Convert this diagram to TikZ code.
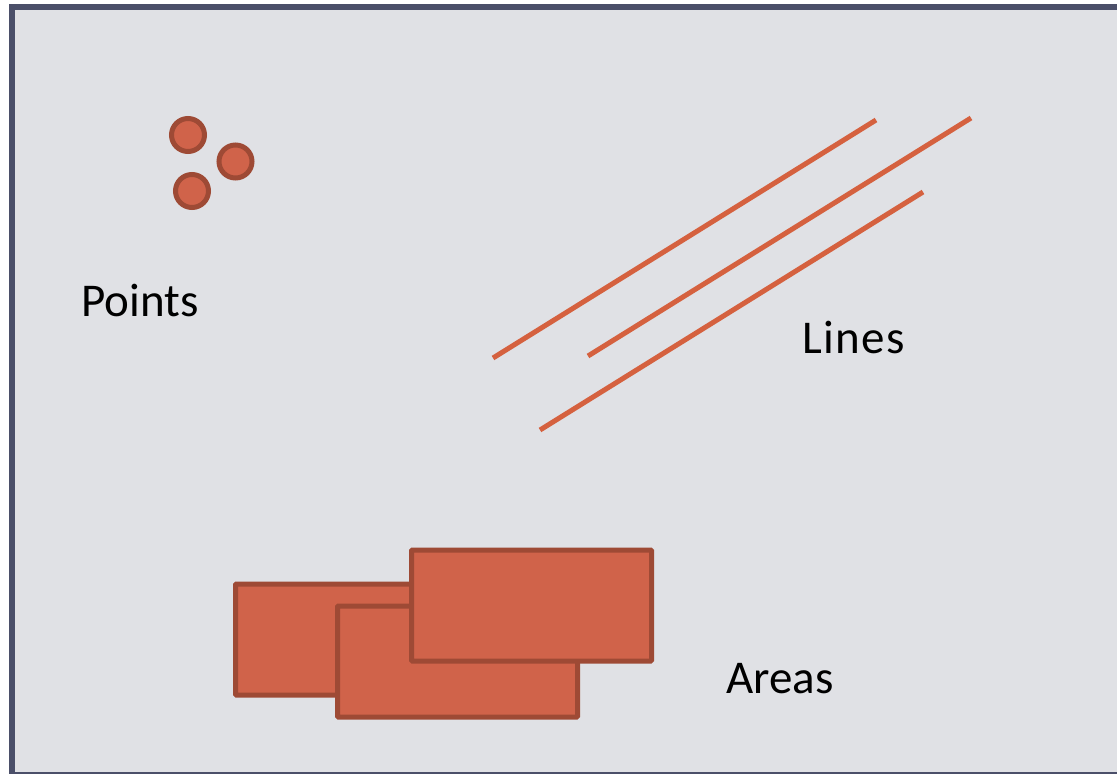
\documentclass[tikz,border=0pt]{standalone}
\usepackage{fontspec}
\setmainfont{Carlito}
\definecolor{framec}{HTML}{4B4F69}
\definecolor{bgc}{HTML}{E0E1E5}
\definecolor{fillc}{HTML}{D0634A}
\definecolor{edgec}{HTML}{9E4A35}
\definecolor{linec}{HTML}{D5613F}
\tikzset{
  dot/.style={circle, draw=edgec, fill=fillc, line width=5pt, minimum size=33pt, inner sep=0pt},
  area/.style={rectangle, draw=edgec, fill=fillc, line width=5pt, minimum width=240pt, minimum height=111pt, inner sep=0pt, rounded corners=1pt},
  feat/.style={draw=linec, line width=5pt},
  lbl/.style={anchor=base west, inner sep=0pt, font=\fontsize{47}{56}\selectfont, text=black}
}
\begin{document}
\begin{tikzpicture}[x=1pt,y=-1pt]
\useasboundingbox (0,0) rectangle (1117,774);
\clip (0,0) rectangle (1117,774);
\fill[white] (0,0) rectangle (1117,774);
\draw[framec, fill=bgc, line width=6pt] (12,7) rectangle (1130,775);
% points
\node[dot] (p1) at (188,135) {};
\node[dot] (p2) at (235.5,161.5) {};
\node[dot] (p3) at (192,191) {};
\node[lbl] (tp) at (81,316) {Points};
% lines
\coordinate (l1a) at (493,358);
\coordinate (l1b) at (876,120);
\coordinate (l2a) at (588,356);
\coordinate (l2b) at (971,118);
\coordinate (l3a) at (540,430);
\coordinate (l3b) at (923,192);
\draw[feat] (l1a) -- (l1b);
\draw[feat] (l2a) -- (l2b);
\draw[feat] (l3a) -- (l3b);
\node[lbl] (tl) at (802,353) {L\kern1.5pt i\kern1.5pt n\kern1.5pt e\kern1.5pt s};
% areas
\node[area] (a1) at (355.5,639.5) {};
\node[area] (a2) at (457.5,661.5) {};
\node[area] (a3) at (531.5,605.5) {};
\node[lbl] (ta) at (726,693) {Areas};
\end{tikzpicture}
\end{document}
